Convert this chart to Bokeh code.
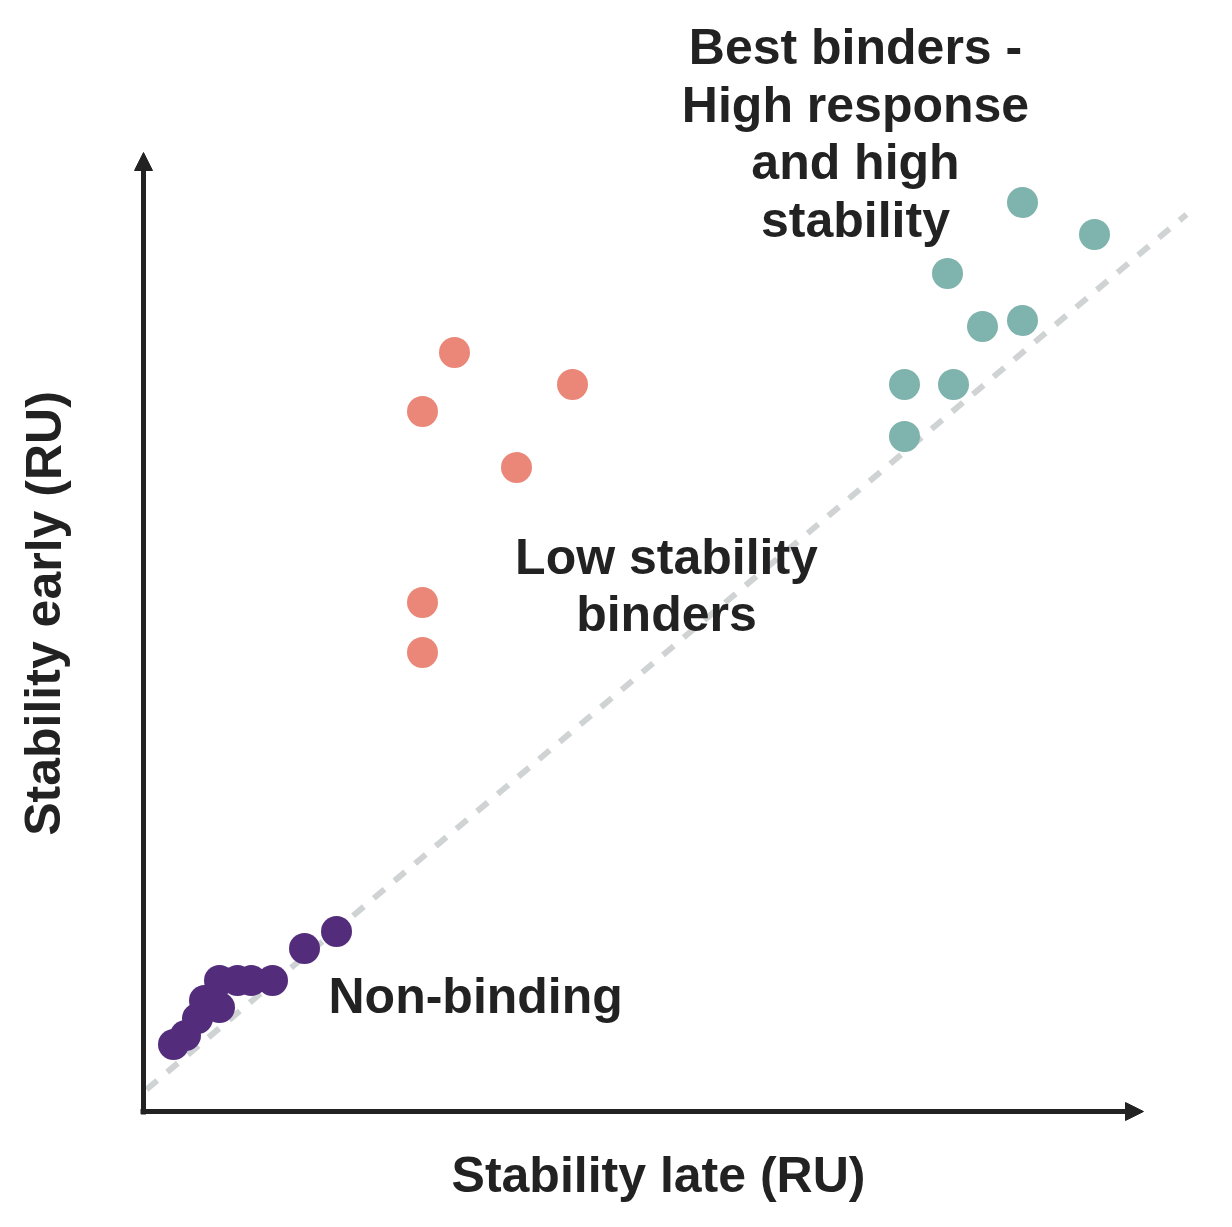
from bokeh.plotting import figure
from bokeh.models import Range1d, Arrow, NormalHead
from bokeh.core.properties import value
from bokeh.embed import file_html
from bokeh.resources import INLINE

# Data (arbitrary RU units, origin at axis corner)
nonbind_x = [3.0, 4.2, 5.4, 6.1, 7.6, 7.6, 9.4, 10.8, 12.9, 16.1, 19.3]
nonbind_y = [6.7, 7.6, 9.3, 11.1, 10.4, 13.1, 13.1, 13.1, 13.1, 16.3, 18.0]

lowstab_x = [31.1, 42.9, 27.9, 37.3, 27.9, 27.9]
lowstab_y = [75.9, 72.7, 70.0, 64.4, 50.9, 45.9]

best_x = [87.9, 95.1, 80.4, 83.9, 87.9, 76.1, 81.0, 76.1]
best_y = [90.9, 87.7, 83.8, 78.5, 79.1, 72.7, 72.7, 67.5]

diag_x = [0.3, 104.3]
diag_y = [2.2, 89.7]

labels = ["Best binders -\nHigh response\nand high\nstability", "Low stability\nbinders", "Non-binding"]
label_x = [71.2, 52.3, 18.5]
label_y = [97.8, 52.6, 11.6]
label_align = ["center", "center", "left"]

x_title = "Stability late (RU)"
y_title = "Stability early (RU)"

FONT = "Liberation Sans"
INK = "#222222"

p = figure(width=1232, height=1227, output_backend="svg", toolbar_location=None,
           x_range=Range1d(-14.3, 108.9), y_range=Range1d(-11.6, 111.1),
           min_border=0, min_border_left=0, min_border_right=0,
           min_border_top=0, min_border_bottom=0)
p.axis.visible = False
p.xaxis.visible = False
p.yaxis.visible = False
p.grid.visible = False
p.outline_line_color = None
p.background_fill_color = "white"
p.border_fill_color = "white"

# dashed identity line
p.line(diag_x, diag_y, line_color="#d0d3d4", line_width=6, line_dash="14 13")

# axes with arrows
p.add_layout(Arrow(x_start=-0.3, y_start=0, x_end=100.0, y_end=0, line_color=INK, line_width=5,
                   end=NormalHead(size=18, fill_color=INK, line_color=INK, line_width=1)))
p.add_layout(Arrow(x_start=0, y_start=-0.3, x_end=0, y_end=95.9, line_color=INK, line_width=5,
                   end=NormalHead(size=18, fill_color=INK, line_color=INK, line_width=1)))

# points
p.scatter(nonbind_x, nonbind_y, size=31, fill_color="#532d7b", line_color=None)
p.scatter(lowstab_x, lowstab_y, size=31, fill_color="#ea8778", line_color=None)
p.scatter(best_x, best_y, size=31, fill_color="#7fb3ad", line_color=None)

# annotations
for t, x, y, a in zip(labels, label_x, label_y, label_align):
    p.text(x=[x], y=[y], text=[t], text_font=value(FONT), text_font_style="bold",
           text_font_size="50px", text_color=INK, text_align=a, text_baseline="middle",
           text_line_height=1.025)

# axis titles
p.text(x=[51.5], y=[-6.3], text=[x_title], text_font=value(FONT), text_font_style="bold",
       text_font_size="50px", text_color=INK, text_align="center", text_baseline="middle")
p.text(x=[-10.0], y=[49.8], text=[y_title], text_font=value(FONT), text_font_style="bold",
       text_font_size="50px", text_color=INK, text_align="center", text_baseline="middle",
       angle=1.5707963)

open("out.html", "w").write(file_html(p, INLINE))
